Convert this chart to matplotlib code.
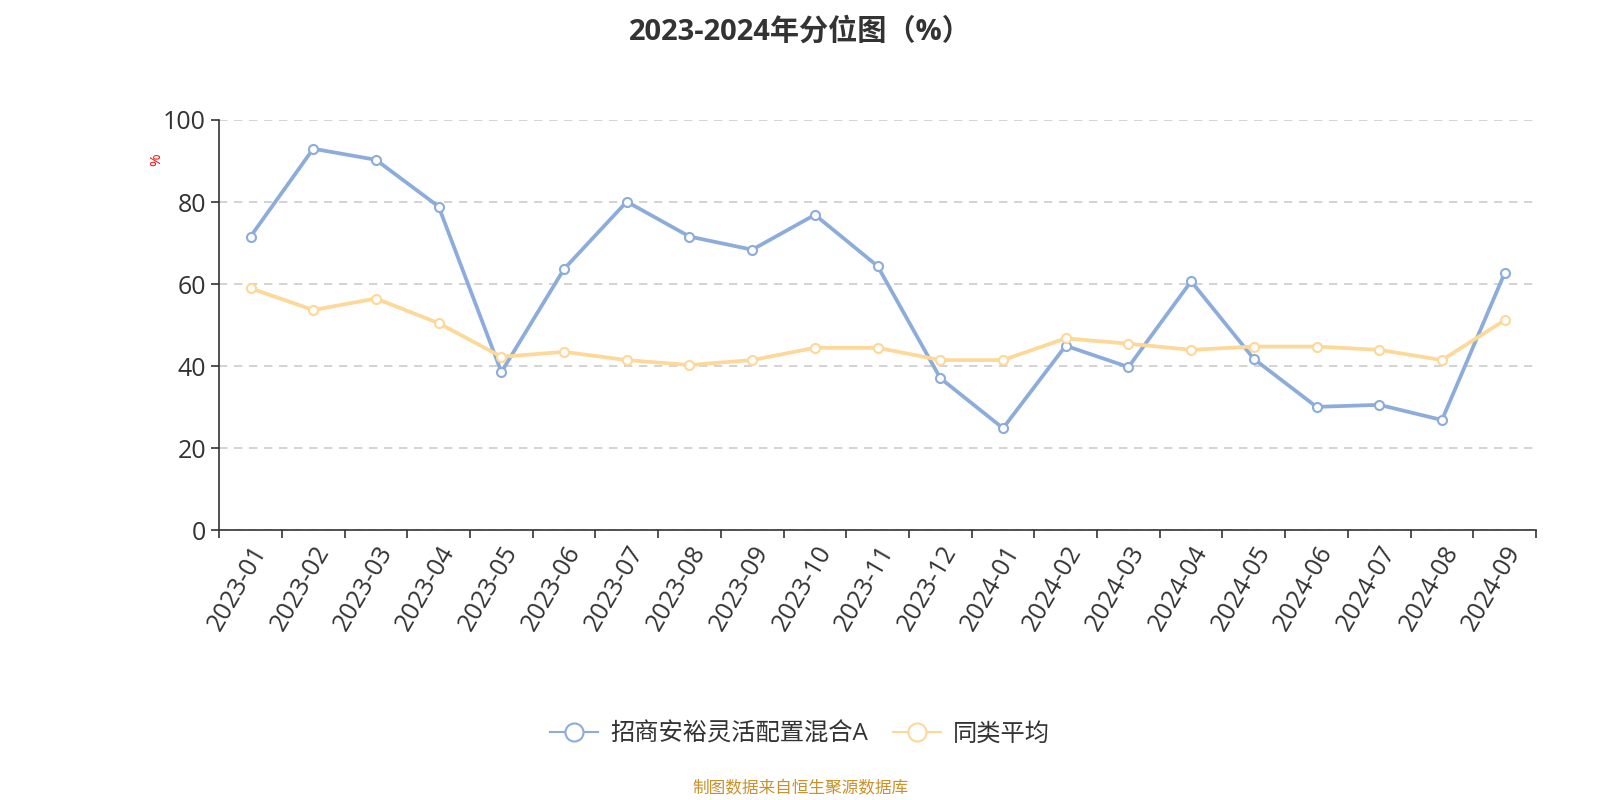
import matplotlib
matplotlib.use("Agg")
import matplotlib.pyplot as plt
import numpy as np

plt.rcParams['font.family'] = ['Open Sans', 'Noto Sans CJK SC', 'DejaVu Sans']

months = ['2023-01', '2023-02', '2023-03', '2023-04', '2023-05', '2023-06', '2023-07',
          '2023-08', '2023-09', '2023-10', '2023-11', '2023-12', '2024-01', '2024-02',
          '2024-03', '2024-04', '2024-05', '2024-06', '2024-07', '2024-08', '2024-09']
fund = [71.6, 93.0, 90.3, 78.9, 38.6, 63.7, 80.1, 71.6, 68.4, 76.9, 64.4,
        37.1, 24.9, 45.0, 39.8, 60.7, 41.8, 30.1, 30.6, 26.9, 62.7]
peer = [59.0, 53.7, 56.5, 50.5, 42.3, 43.5, 41.5, 40.3, 41.5, 44.5, 44.5,
        41.5, 41.5, 46.8, 45.5, 44.0, 44.8, 44.8, 44.0, 41.5, 51.2]

blue = '#8cacdb'
yellow = '#fdd898'

fig = plt.figure(figsize=(16, 8), dpi=100)
ax = fig.add_axes([0.137, 0.337, 0.823, 0.513])

x = np.arange(len(months))
ax.plot(x, fund, color=blue, lw=2.7, marker='o', ms=6.5, mfc='white', mec=blue,
        mew=1.5, label='招商安裕灵活配置混合A', zorder=3)
ax.plot(x, peer, color=yellow, lw=2.7, marker='o', ms=6.5, mfc='white', mec=yellow,
        mew=1.5, label='同类平均', zorder=3)

ax.set_xlim(-0.5, len(months) - 0.5)
ax.set_ylim(0, 100)
ax.set_yticks([0, 20, 40, 60, 80, 100])
ax.yaxis.grid(True, color='#cccccc', ls=(0, (5, 4)), lw=1.2)
ax.set_axisbelow(True)

ax.set_xticks(np.arange(-0.5, len(months), 1.0))
ax.set_xticklabels([])
ax.set_xticks(x, minor=True)
ax.set_xticklabels(months, minor=True, rotation=60, ha='right', va='top',
                   rotation_mode='anchor', fontsize=18, color='#333333')
ax.tick_params(axis='x', which='minor', length=0, pad=8)
ax.tick_params(axis='x', which='major', length=6, color='#333333', width=1.2)
ax.tick_params(axis='y', length=6, color='#333333', width=1.2, labelsize=18,
               labelcolor='#333333')

for s in ['top', 'right']:
    ax.spines[s].set_visible(False)
for s in ['left', 'bottom']:
    ax.spines[s].set_color('#333333')
    ax.spines[s].set_linewidth(1.2)

fig.text(0.098, 0.80, '%', color='red', fontsize=11, rotation=90,
         ha='center', va='center')

fig.suptitle('2023-2024年分位图（%）', y=0.978, fontsize=21, fontweight='bold',
             color='#333333')

leg = fig.legend(loc='center', bbox_to_anchor=(0.5, 0.082), ncol=2, frameon=False,
                 fontsize=17.5, handlelength=2.0, markerscale=2.0, columnspacing=1.0,
                 handletextpad=0.5)
for t in leg.get_texts():
    t.set_color('#333333')
for h in leg.get_lines():
    h.set_linewidth(1.5)

fig.text(0.5, 0.013, '制图数据来自恒生聚源数据库', color='#c8912b', fontsize=12,
         ha='center', va='center')

fig.savefig('out.png', dpi=100)
